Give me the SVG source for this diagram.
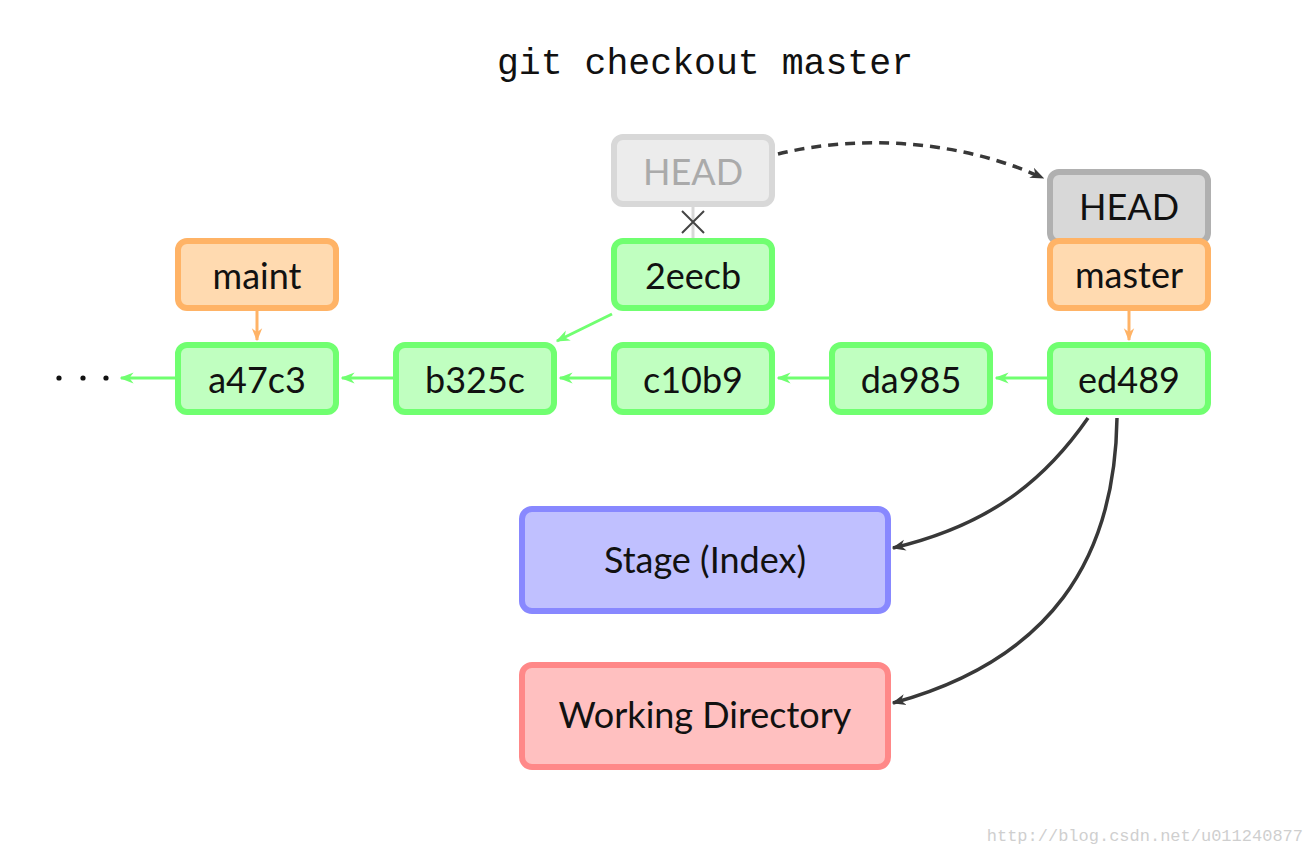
<svg xmlns="http://www.w3.org/2000/svg" width="1314" height="858" viewBox="0 0 1314 858">
<style>
.t{font-family:Lato,"Open Sans","DejaVu Sans",sans-serif;font-size:36px;fill:#111;text-anchor:middle;dominant-baseline:central}
.c rect{fill:#c0ffc0;stroke:#70ff70;stroke-width:6}
.b rect{fill:#ffdab0;stroke:#ffb366;stroke-width:6}
.g{stroke:#70ff70;stroke-width:3;fill:none}
.o{stroke:#ffb366;stroke-width:3;fill:none}
.k{stroke:#383838;stroke-width:3.5;fill:none}
</style>
<defs>
<marker id="ag" viewBox="0 0 10 10" refX="9" refY="5" markerWidth="14" markerHeight="14" orient="auto" markerUnits="userSpaceOnUse"><path d="M0,1 L10,5 L0,9 L3,5 z" fill="#70ff70"/></marker>
<marker id="ao" viewBox="0 0 10 10" refX="9" refY="5" markerWidth="13" markerHeight="13" orient="auto" markerUnits="userSpaceOnUse"><path d="M0,1 L10,5 L0,9 L3,5 z" fill="#ffb366"/></marker>
<marker id="ak" viewBox="0 0 10 10" refX="9" refY="5" markerWidth="14" markerHeight="14" orient="auto" markerUnits="userSpaceOnUse"><path d="M0,1 L10,5 L0,9 L3,5 z" fill="#383838"/></marker>
</defs>
<rect width="1314" height="858" fill="#fff"/>
<text x="705" y="64" style="font-family:'Liberation Mono','DejaVu Sans Mono',monospace;font-size:36.5px;fill:#111;text-anchor:middle;dominant-baseline:central">git checkout master</text>
<g id="connectors">
<line class="g" x1="175" y1="378" x2="121" y2="378" marker-end="url(#ag)"/>
<line class="g" x1="393" y1="378" x2="342" y2="378" marker-end="url(#ag)"/>
<line class="g" x1="611" y1="378" x2="560" y2="378" marker-end="url(#ag)"/>
<line class="g" x1="829" y1="378" x2="778" y2="378" marker-end="url(#ag)"/>
<line class="g" x1="1047" y1="378" x2="996" y2="378" marker-end="url(#ag)"/>
<line class="g" x1="612" y1="314" x2="557" y2="341" marker-end="url(#ag)"/>
<line class="o" x1="257" y1="311" x2="257" y2="340" marker-end="url(#ao)"/>
<line class="o" x1="1129" y1="311" x2="1129" y2="340" marker-end="url(#ao)"/>
<line x1="693" y1="207" x2="693" y2="238" stroke="#d8d8d8" stroke-width="3"/>
<path d="M682,211 L704,233 M704,211 L682,233" stroke="#444" stroke-width="2" fill="none"/>
<path class="k" d="M778,154 C860,134 960,140 1043,178" stroke-dasharray="10,7" marker-end="url(#ak)"/>
<path class="k" d="M1088,418 C1045,480 990,525 893,548" marker-end="url(#ak)"/>
<path class="k" d="M1117,418 C1115,560 1050,660 893,703" marker-end="url(#ak)"/>
</g>
<g id="dots" fill="#111"><circle cx="59" cy="378" r="2.6"/><circle cx="83" cy="378" r="2.6"/><circle cx="106" cy="378" r="2.6"/></g>
<g id="head-old"><rect x="614" y="137" width="158" height="67" rx="9" fill="#ececec" stroke="#d8d8d8" stroke-width="6"/><text class="t" x="693" y="171" style="fill:#aaa">HEAD</text></g>
<g id="head-new"><rect x="1050" y="172" width="158" height="70" rx="9" fill="#d8d8d8" stroke="#b0b0b0" stroke-width="6"/><text class="t" x="1129" y="206">HEAD</text></g>
<g id="maint" class="b"><rect x="178" y="241" width="158" height="67" rx="9"/><text class="t" x="257" y="275">maint</text></g>
<g id="master" class="b"><rect x="1050" y="241" width="158" height="67" rx="9"/><text class="t" x="1129" y="274">master</text></g>
<g id="c2eecb" class="c"><rect x="614" y="241" width="158" height="67" rx="9"/><text class="t" x="693" y="275">2eecb</text></g>
<g id="ca47c3" class="c"><rect x="178" y="345" width="158" height="67" rx="9"/><text class="t" x="257" y="379">a47c3</text></g>
<g id="cb325c" class="c"><rect x="396" y="345" width="158" height="67" rx="9"/><text class="t" x="475" y="379">b325c</text></g>
<g id="cc10b9" class="c"><rect x="614" y="345" width="158" height="67" rx="9"/><text class="t" x="693" y="379">c10b9</text></g>
<g id="cda985" class="c"><rect x="832" y="345" width="158" height="67" rx="9"/><text class="t" x="911" y="379">da985</text></g>
<g id="ced489" class="c"><rect x="1050" y="345" width="158" height="67" rx="9"/><text class="t" x="1129" y="379">ed489</text></g>
<g id="stage"><rect x="522" y="509" width="366" height="102" rx="10" fill="#c0c0ff" stroke="#8888ff" stroke-width="6"/><text class="t" x="705" y="559">Stage (Index)</text></g>
<g id="workdir"><rect x="522" y="665" width="366" height="102" rx="10" fill="#ffc0c0" stroke="#ff8888" stroke-width="6"/><text class="t" x="705" y="714">Working Directory</text></g>
<text x="1303" y="836" style="font-family:'Liberation Mono',monospace;font-size:17px;fill:#cfcfcf;text-anchor:end;dominant-baseline:central">http://blog.csdn.net/u011240877</text>
</svg>
